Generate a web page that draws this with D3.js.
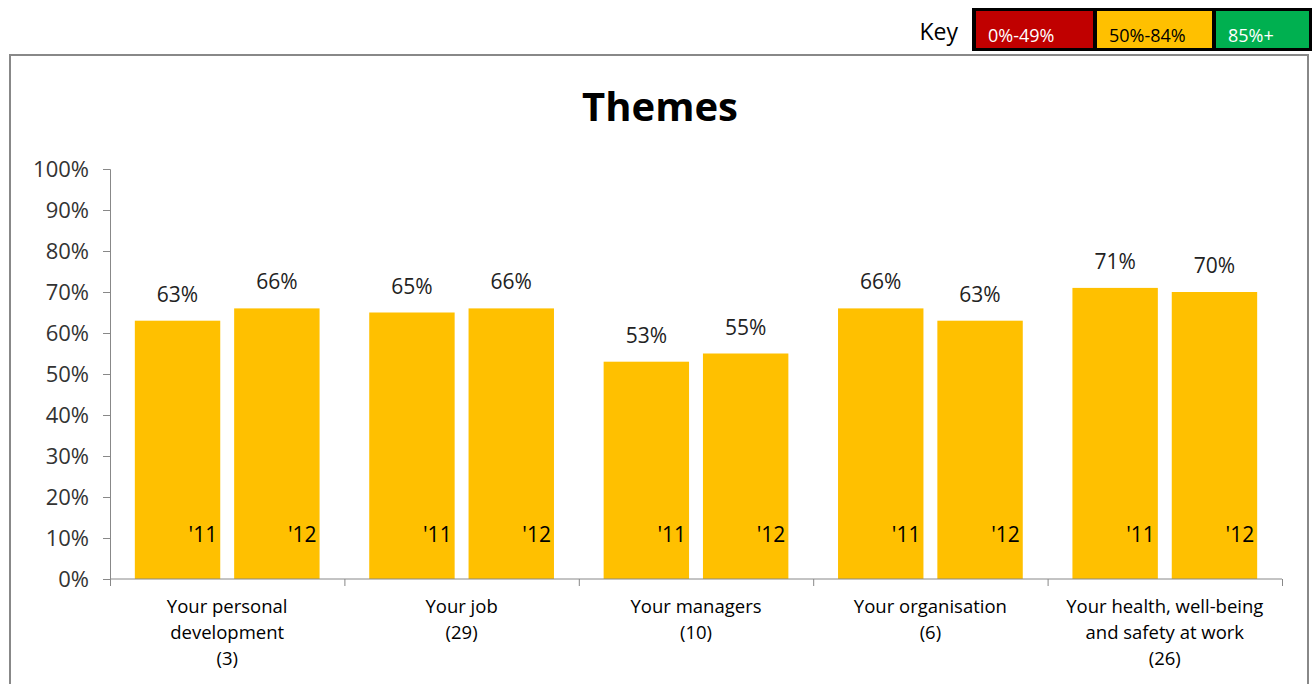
<!DOCTYPE html>
<html lang="en">
<head>
  <meta charset="UTF-8">
  <title>Themes</title>
  <style>
    body { margin: 0; background: #fff; font-family: "Open Sans", sans-serif; }
  </style>
  <script src="https://cdn.jsdelivr.net/npm/d3@7"></script>
</head>
<body>
<script>
  // data
  var themes = [
    ["Your personal", "development", "(3)"],
    ["Your job", "(29)"],
    ["Your managers", "(10)"],
    ["Your organisation", "(6)"],
    ["Your health, well-being", "and safety at work", "(26)"]
  ];
  var years = ["'11", "'12"];
  var values11 = [63, 65, 53, 66, 71];
  var values12 = [66, 66, 55, 63, 70];
  var yTicks = [0, 10, 20, 30, 40, 50, 60, 70, 80, 90, 100];
  var keyBands = [
    { label: "0%-49%", fill: "#C00000", text: "#fff" },
    { label: "50%-84%", fill: "#FFC000", text: "#000" },
    { label: "85%+", fill: "#00B050", text: "#fff" }
  ];

  var W = 1314, H = 684;
  var svg = d3.select("body").append("svg").attr("width", W).attr("height", H);

  // key
  var key = svg.append("g");
  key.append("text").attr("x", 958).attr("y", 40).attr("text-anchor", "end")
    .style("font-size", "23px").text("Key");
  var keyX = d3.scaleOrdinal().domain(keyBands.map(function(d) { return d.label; })).range([974, 1095, 1214]);
  var keyWid = d3.scaleOrdinal().domain(keyBands.map(function(d) { return d.label; })).range([120, 118, 96]);
  key.append("rect").attr("x", 972).attr("y", 8).attr("width", 340).attr("height", 43)
    .attr("fill", "#000");
  key.selectAll("rect.cell").data(keyBands).enter().append("rect").attr("class", "cell")
    .attr("x", function(d) { return keyX(d.label) + 2; })
    .attr("y", 11)
    .attr("width", function(d) { return keyWid(d.label) - 3; })
    .attr("height", 37)
    .attr("fill", function(d) { return d.fill; });
  key.selectAll("text.cell").data(keyBands).enter().append("text").attr("class", "cell")
    .attr("x", function(d) { return keyX(d.label) + 14; })
    .attr("y", 42)
    .attr("fill", function(d) { return d.text; })
    .style("font-size", "18px")
    .text(function(d) { return d.label; });

  // chart frame
  svg.append("rect").attr("x", 10).attr("y", 55).attr("width", 1298).attr("height", 640)
    .attr("fill", "#fff").attr("stroke", "#888").attr("stroke-width", 2);

  svg.append("text").attr("x", 660).attr("y", 121).attr("text-anchor", "middle")
    .style("font-size", "40px").style("font-weight", "bold")
    .text("Themes");

  var pLeft = 110, pRight = 1282, pTop = 169, pBottom = 579;
  var x0 = d3.scaleBand().domain(d3.range(themes.length)).range([pLeft, pRight]);
  var x1 = d3.scaleBand().domain(years).range([0, x0.bandwidth()]).paddingInner(0.14).paddingOuter(0.25);
  var y = d3.scaleLinear().domain([0, 100]).range([pBottom, pTop]);

  var g = svg.append("g");

  // bars
  var rows = [];
  themes.forEach(function(t, i) {
    rows.push({ i: i, yr: years[0], v: values11[i] });
    rows.push({ i: i, yr: years[1], v: values12[i] });
  });

  g.selectAll("rect.bar").data(rows).enter().append("rect").attr("class", "bar")
    .attr("x", function(d) { return x0(d.i) + x1(d.yr); })
    .attr("y", function(d) { return y(d.v); })
    .attr("width", x1.bandwidth())
    .attr("height", function(d) { return y(0) - y(d.v); })
    .attr("fill", "#FFC000");

  g.selectAll("text.val").data(rows).enter().append("text").attr("class", "val")
    .attr("x", function(d) { return x0(d.i) + x1(d.yr) + x1.bandwidth() / 2; })
    .attr("y", function(d) { return y(d.v) - 19; })
    .attr("text-anchor", "middle")
    .style("font-size", "21px").attr("fill", "#222")
    .text(function(d) { return d.v + "%"; });

  g.selectAll("text.yr").data(rows).enter().append("text").attr("class", "yr")
    .attr("x", function(d) { return x0(d.i) + x1(d.yr) + x1.bandwidth() - 3; })
    .attr("y", 542)
    .attr("text-anchor", "end")
    .style("font-size", "21px").attr("fill", "#000")
    .text(function(d) { return d.yr; });

  // y axis
  var yAxis = g.append("g").attr("transform", "translate(" + pLeft + ",0)")
    .call(d3.axisLeft(y).tickValues(yTicks).tickSize(7).tickPadding(14).tickFormat(function(d) { return d + "%"; }));
  yAxis.selectAll("path, line").attr("stroke", "#888");
  yAxis.selectAll("text").style("font-size", "22px").style("font-family", "Open Sans").attr("fill", "#333");

  // x axis
  var xb = d3.scaleLinear().domain([0, themes.length]).range([pLeft, pRight]);
  var xAxis = g.append("g").attr("transform", "translate(0," + pBottom + ")")
    .call(d3.axisBottom(xb).tickValues(d3.range(themes.length + 1)).tickSize(7).tickFormat(""));
  xAxis.select("path").attr("d", "M" + pLeft + ",0H" + pRight);
  xAxis.selectAll("path, line").attr("stroke", "#888");

  var cat = g.selectAll("text.cat").data(themes).enter().append("text").attr("class", "cat")
    .attr("x", function(d, i) { return x0(i) + x0.bandwidth() / 2; })
    .attr("y", 613)
    .attr("text-anchor", "middle")
    .style("font-size", "18.5px").attr("fill", "#000");
  cat.selectAll("tspan").data(function(d) { return d; }).enter().append("tspan")
    .attr("x", function() { return this.parentNode.getAttribute("x"); })
    .attr("dy", function(d, j) { return j === 0 ? 0 : 26; })
    .text(function(d) { return d; });
</script>
</body>
</html>
